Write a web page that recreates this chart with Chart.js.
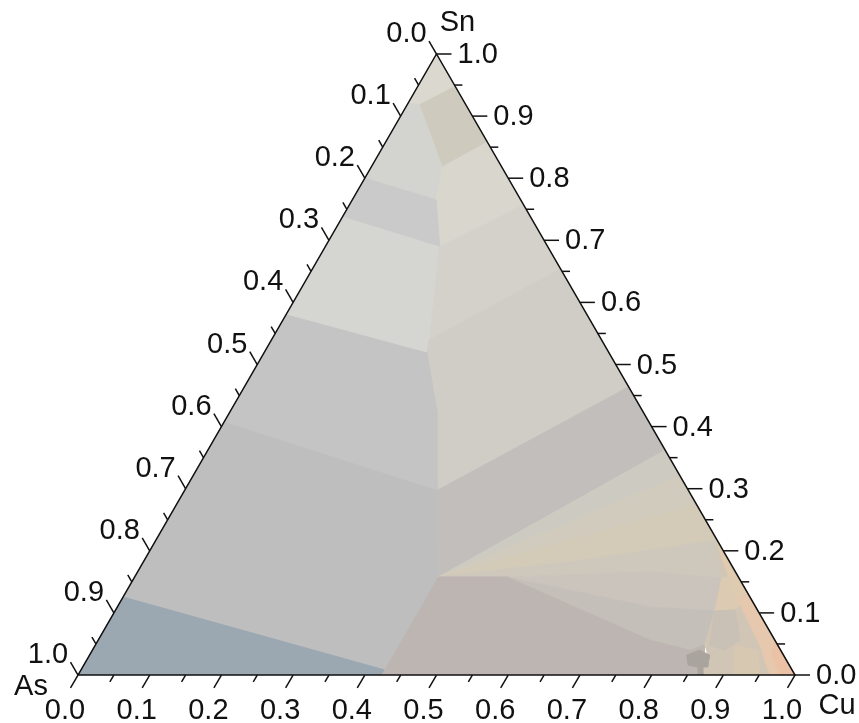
<!DOCTYPE html>
<html>
<head>
<meta charset="utf-8">
<script src="https://cdn.jsdelivr.net/npm/chart.js@4.4.1/dist/chart.umd.min.js"></script>
<style>
  body { margin: 0; background: #fff; }
  #wrap { width: 859px; height: 723px; }
</style>
</head>
<body>
<div id="wrap"><canvas id="ternary"></canvas></div>
<script>
// axis names (left, bottom, top corners) and tick labels
const cornerNames = ['As', 'Cu', 'Sn'];
const tickLabels = ['0.0', '0.1', '0.2', '0.3', '0.4', '0.5', '0.6', '0.7', '0.8', '0.9', '1.0'];
const minorStep = 0.05;

// contour regions, vertices as [Cu, Sn] fractions (As = 1 - Cu - Sn)
const apexCap = [[0, 1], [0, 0.921], [0.017, 0.918], [0.052, 0.948]];
const apexRight = [[0.017, 0.918], [0.052, 0.948], [0.142, 0.858], [0.099, 0.818]];
const upperLeft = [[0, 0.921], [0.017, 0.918], [0.099, 0.818], [0.117, 0.765], [0, 0.800]];
const upperRight = [[0.099, 0.818], [0.142, 0.858], [0.243, 0.757], [0.160, 0.689], [0.117, 0.765]];
const band20 = [[0, 0.800], [0.117, 0.765], [0.160, 0.689], [0, 0.7375]];
const band30 = [[0, 0.7375], [0.160, 0.689], [0.2275, 0.5185], [0, 0.580]];
const midRightA = [[0.160, 0.689], [0.243, 0.757], [0.346, 0.654], [0.220, 0.5395]];
const midRightB = [[0.220, 0.5395], [0.346, 0.654], [0.536, 0.464], [0.352, 0.297], [0.287, 0.4267], [0.2275, 0.5185]];
const band50 = [[0, 0.580], [0.2275, 0.5185], [0.287, 0.4267], [0.352, 0.297], [0, 0.407]];
const band70 = [[0, 0.407], [0.352, 0.297], [0.424, 0.158], [0.424, 0.008], [0, 0.1256]];
const asCorner = [[0, 0.1256], [0.424, 0.008], [0.424, 0], [0, 0]];
const band35 = [[0.352, 0.297], [0.536, 0.464], [0.638, 0.362], [0.424, 0.158]];
const fan1 = [[0.424, 0.158], [0.638, 0.362], [0.679, 0.3205]];
const fan2 = [[0.424, 0.158], [0.679, 0.3205], [0.726, 0.274]];
const fan3 = [[0.424, 0.158], [0.726, 0.274], [0.7825, 0.217], [0.697, 0.201], [0.612, 0.185]];
const fan4 = [[0.424, 0.158], [0.612, 0.185], [0.697, 0.201], [0.7825, 0.217], [0.820, 0.156], [0.715, 0.166], [0.519, 0.158]];
const fan5 = [[0.519, 0.158], [0.715, 0.166], [0.820, 0.156], [0.837, 0.103], [0.743, 0.1095]];
const fan6 = [[0.519, 0.158], [0.743, 0.1095], [0.837, 0.103], [0.850, 0.048], [0.833, 0.040], [0.770, 0.056]];
const mauveBase = [[0.424, 0], [0.424, 0.158], [0.519, 0.158], [0.770, 0.056], [0.833, 0.040], [0.850, 0.048], [0.872, 0]];
const cuCells = [[0.7825, 0.217], [1, 0], [0.872, 0], [0.865, 0.013], [0.871, 0.021], [0.854, 0.0435], [0.850, 0.048], [0.837, 0.103], [0.820, 0.156]];
const cellA = [[0.820, 0.156], [0.836, 0.161], [0.870, 0.121], [0.864, 0.105], [0.837, 0.103]];
const cellB = [[0.837, 0.103], [0.864, 0.105], [0.895, 0.056], [0.882, 0.040], [0.857, 0.048]];
const cellC = [[0.892, 0.048], [0.928, 0.040], [0.951, 0], [0.9135, 0]];
const edgeTan = [[0.7825, 0.217], [0.870, 0.130], [0.860, 0.121], [0.826, 0.161], [0.806, 0.185]];
const edgePeach = [[0.870, 0.130], [1, 0], [0.965, 0], [0.927, 0.048], [0.882, 0.097], [0.860, 0.121]];
const cornerPeach = [[0.944, 0.056], [1, 0], [0.979, 0], [0.952, 0.032]];
const darkCell = [[0.833, 0.032], [0.847, 0.040], [0.865, 0.032], [0.872, 0.013], [0.865, 0.013], [0.872, 0], [0.865, 0], [0.858, 0.013], [0.843, 0.016]];

const regions = [apexCap, apexRight, upperLeft, upperRight, band20, band30, midRightA, midRightB,
  band50, band70, asCorner, band35, fan1, fan2, fan3, fan4, fan5, fan6, mauveBase, cuCells,
  cellA, cellB, cellC, edgeTan, edgePeach, cornerPeach, darkCell];
const regionColors = ['#dbd9cf', '#cecabe', '#d3d3cf', '#d8d6cd', '#cacaca', '#d5d6d2', '#d3d1ca', '#cfcdc6',
  '#c4c4c4', '#bebebe', '#9ba7b1', '#c2bebb', '#cdcac1', '#d0cbbd', '#d3cab7', '#cec8bc', '#cac4bc', '#c5bfba',
  '#bdb5b1', '#d1c6b5', '#dccab2', '#c9c1b6', '#d7c8b2', '#dfcbb0', '#e5c8ad', '#ecc2a6', '#a9a49d'];

const outline = [[0, 0], [1, 0], [0, 1], [0, 0]];

const H = Math.sqrt(3) / 2;
function toXY(p) {
  return { x: p[0] + p[1] / 2, y: p[1] * H };
}

// later regions go on top (higher order is drawn first in Chart.js)
const datasets = regions.map((r, i) => ({
  data: r.concat([r[0]]).map(toXY),
  backgroundColor: regionColors[i],
  borderColor: regionColors[i],
  borderWidth: 1,
  fill: 'shape',
  pointRadius: 0,
  tension: 0,
  order: regions.length - i + 1
}));
datasets.push({
  data: outline.map(toXY),
  borderColor: '#111',
  borderWidth: 1.5,
  fill: false,
  pointRadius: 0,
  tension: 0,
  clip: false,
  order: 0
});

// ticks and labels of the three ternary axes
const ternaryAxes = {
  id: 'ternaryAxes',
  afterDatasetsDraw(chart) {
    const { ctx, scales: { x, y } } = chart;
    const pix = (cu, sn) => {
      const p = toXY([cu, sn]);
      return { x: x.getPixelForValue(p.x), y: y.getPixelForValue(p.y) };
    };
    ctx.save();
    ctx.strokeStyle = '#111';
    ctx.lineWidth = 1.5;
    ctx.fillStyle = '#111';
    ctx.font = '29px "Liberation Sans", Arial, sans-serif';
    ctx.textBaseline = 'middle';

    const n = Math.round(1 / minorStep);
    for (let i = 0; i <= n; i++) {
      const v = i * minorStep;
      const major = i % 2 === 0;
      const len = major ? 15 : 8;
      // bottom: Cu
      let p = pix(v, 0);
      ctx.beginPath();
      ctx.moveTo(p.x, p.y);
      ctx.lineTo(p.x - 0.5 * len, p.y + H * len);
      ctx.stroke();
      // right: Sn
      p = pix(1 - v, v);
      ctx.beginPath();
      ctx.moveTo(p.x, p.y);
      ctx.lineTo(p.x + len, p.y);
      ctx.stroke();
      // left: As
      p = pix(0, 1 - v);
      ctx.beginPath();
      ctx.moveTo(p.x, p.y);
      ctx.lineTo(p.x - 0.5 * len, p.y - H * len);
      ctx.stroke();
    }

    tickLabels.forEach((t, i) => {
      const v = i / (tickLabels.length - 1);
      let p = pix(v, 0);
      ctx.textAlign = 'center';
      ctx.fillText(t, p.x - 13, p.y + 36);
      p = pix(1 - v, v);
      ctx.textAlign = 'left';
      ctx.fillText(t, p.x + 21, p.y + 1);
      p = pix(0, 1 - v);
      ctx.textAlign = 'center';
      ctx.fillText(t, p.x - 30, p.y - 20);
    });

    ctx.textAlign = 'center';
    let c = pix(0, 0);
    ctx.fillText(cornerNames[0], c.x - 47, c.y + 12);
    c = pix(1, 0);
    ctx.fillText(cornerNames[1], c.x + 42, c.y + 31);
    c = pix(0, 1);
    ctx.fillText(cornerNames[2], c.x + 21, c.y - 31);
    ctx.restore();
  }
};

new Chart(document.getElementById('ternary'), {
  type: 'line',
  data: { datasets: datasets },
  options: {
    responsive: true,
    maintainAspectRatio: false,
    animation: false,
    layout: { padding: { left: 78, right: 64, top: 54, bottom: 48 } },
    plugins: { legend: { display: false }, tooltip: { enabled: false } },
    scales: {
      x: { type: 'linear', min: 0, max: 1, display: false },
      y: { type: 'linear', min: 0, max: H, display: false }
    }
  },
  plugins: [ternaryAxes]
});
</script>
</body>
</html>
